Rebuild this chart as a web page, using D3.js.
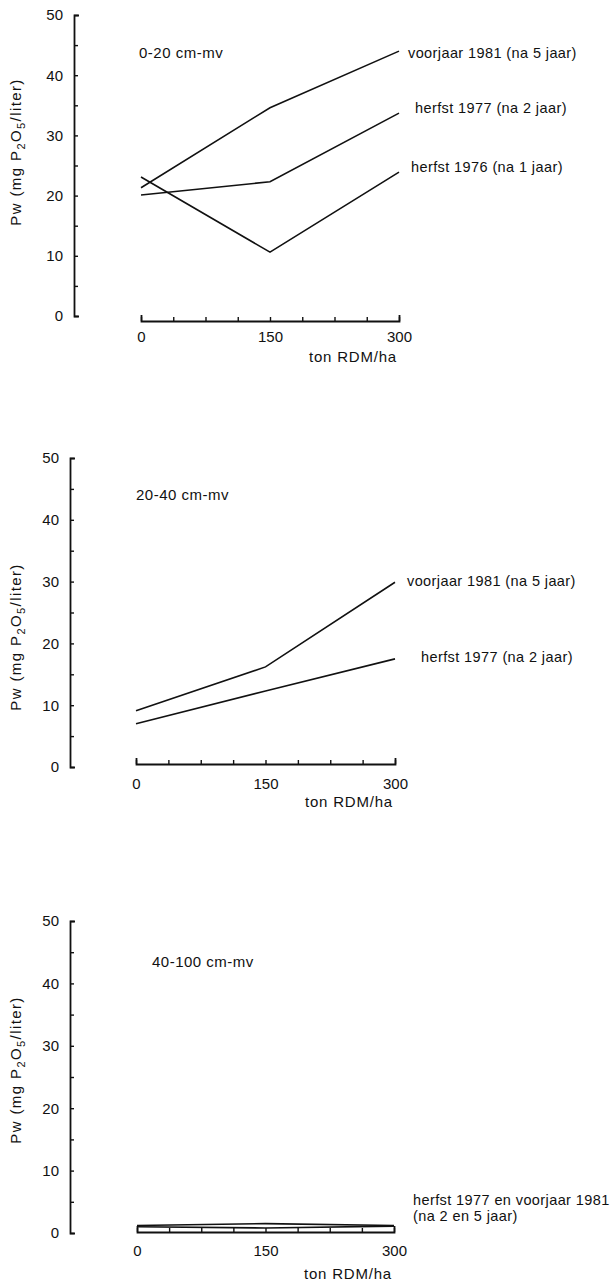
<!DOCTYPE html>
<html>
<head>
<meta charset="utf-8">
<script src="https://cdn.jsdelivr.net/npm/d3@7"></script>
<style>
  body { margin: 0; background: #fff; }
  svg { display: block; }
  text { font-family: "Liberation Sans", Arial, sans-serif; fill: #111; }
</style>
</head>
<body>
<svg width="615" height="1285"></svg>
<script>
var svg = d3.select('svg');

// x values (ton RDM/ha) and axis ticks
var doses = [0, 150, 300];
var xTickValues = [0, 37.5, 75, 112.5, 150, 187.5, 225, 262.5, 300];
var xTickLabels = [0, 150, 300];
var yTickValues = [0, 5, 10, 15, 20, 25, 30, 35, 40, 45, 50];
var yTickLabels = [0, 10, 20, 30, 40, 50];

var panelTitles = ["0-20 cm-mv", "20-40 cm-mv", "40-100 cm-mv"];

// Pw (mg P2O5/liter) per depth layer
var pw0_20_voorjaar1981 = [21.3, 34.6, 44.0];
var pw0_20_herfst1977 = [20.1, 22.3, 33.7];
var pw0_20_herfst1976 = [23.1, 10.6, 23.9];

var pw20_40_voorjaar1981 = [9.1, 16.2, 29.9];
var pw20_40_herfst1977 = [7.0, 12.3, 17.5];

var pw40_100_herfst1977 = [1.2, 1.5, 1.2];
var pw40_100_voorjaar1981 = [1.0, 0.8, 1.1];

var labels0_20 = ["voorjaar 1981 (na 5 jaar)", "herfst 1977 (na 2 jaar)", "herfst 1976 (na 1 jaar)"];
var labels20_40 = ["voorjaar 1981 (na 5 jaar)", "herfst 1977 (na 2 jaar)"];
var labels40_100 = ["herfst 1977 en voorjaar 1981", "(na 2 en 5 jaar)"];

// page layout of each panel (pixels)
var layout = [
  {axisX: 74, y50: 15, y0: 316, xAxisY: 321, x0: 141, x300: 399, titleX: 139, titleY: 53, yLabelY: 152, tickPad: 10, unitY: 362},
  {axisX: 70, y50: 458, y0: 767, xAxisY: 764, x0: 136, x300: 395, titleX: 136, titleY: 495, yLabelY: 637, tickPad: 14, unitY: 807},
  {axisX: 70, y50: 921, y0: 1233, xAxisY: 1232, x0: 137, x300: 394, titleX: 152, titleY: 962, yLabelY: 1070, tickPad: 13, unitY: 1279}
];

// label nudges relative to the line end [dx, dy]
var labelNudge = [
  [[9, 2], [16, -5], [12, -5]],
  [[12, -1], [26, -2]],
  [[19, -26], [19, -10]]
];

var panels = [
  {title: panelTitles[0], series: [pw0_20_voorjaar1981, pw0_20_herfst1977, pw0_20_herfst1976], labels: labels0_20},
  {title: panelTitles[1], series: [pw20_40_voorjaar1981, pw20_40_herfst1977], labels: labels20_40},
  {title: panelTitles[2], series: [pw40_100_herfst1977, pw40_100_voorjaar1981], labels: labels40_100}
];

panels.forEach(function(p, pi) {
  var L = layout[pi];
  var g = svg.append('g');

  var x = d3.scaleLinear().domain([0, 300]).range([L.x0, L.x300]);
  var y = d3.scaleLinear().domain([0, 50]).range([L.y0, L.y50]);

  // y axis, ticks pointing right like the original
  var yAxis = d3.axisLeft(y)
    .tickValues(yTickValues)
    .tickSizeInner(-4)
    .tickSizeOuter(-5)
    .tickPadding(11)
    .tickFormat(function(d) { return yTickLabels.indexOf(d) >= 0 ? d : ""; });

  var ya = g.append('g')
    .attr('transform', 'translate(' + L.axisX + ',0)')
    .call(yAxis);
  ya.attr('font-size', null).attr('font-family', null);
  ya.select('.domain').attr('stroke', '#111').attr('stroke-width', 1.8);
  ya.selectAll('.tick line').attr('stroke', '#111').attr('stroke-width', 1.4);
  ya.selectAll('.tick text').attr('font-size', '15px').attr('fill', '#111');

  // x axis, ticks pointing up
  var xAxis = d3.axisBottom(x)
    .tickValues(xTickValues)
    .tickSizeInner(-4)
    .tickSizeOuter(-6)
    .tickPadding(L.tickPad)
    .tickFormat(function(d) { return xTickLabels.indexOf(d) >= 0 ? d : ""; });

  var xa = g.append('g')
    .attr('transform', 'translate(0,' + L.xAxisY + ')')
    .call(xAxis);
  xa.attr('font-size', null).attr('font-family', null);
  xa.select('.domain').attr('stroke', '#111').attr('stroke-width', 1.8);
  xa.selectAll('.tick line').attr('stroke', '#111').attr('stroke-width', 1.4);
  xa.selectAll('.tick text').attr('font-size', '15px').attr('fill', '#111');

  g.append('text')
    .attr('x', L.x300 - 2)
    .attr('y', L.unitY)
    .attr('text-anchor', 'end')
    .attr('font-size', '15px')
    .attr('letter-spacing', '0.8px')
    .text('ton RDM/ha');

  // y axis title with subscripts
  var yl = g.append('text')
    .attr('transform', 'translate(21,' + L.yLabelY + ') rotate(-90)')
    .attr('text-anchor', 'middle')
    .attr('font-size', '15px')
    .attr('letter-spacing', '1.4px');
  yl.append('tspan').text('Pw (mg P');
  yl.append('tspan').attr('dy', 4).attr('font-size', '11px').text('2');
  yl.append('tspan').attr('dy', -4).text('O');
  yl.append('tspan').attr('dy', 4).attr('font-size', '11px').text('5');
  yl.append('tspan').attr('dy', -4).text('/liter)');

  // depth title
  g.append('text')
    .attr('x', L.titleX)
    .attr('y', L.titleY)
    .attr('dy', '0.35em')
    .attr('font-size', '15px')
    .attr('letter-spacing', '0.5px')
    .text(p.title);

  var line = d3.line()
    .x(function(d, i) { return x(doses[i]); })
    .y(function(d) { return y(d); });

  g.selectAll('.series')
    .data(p.series)
    .enter()
    .append('path')
    .attr('class', 'series')
    .attr('d', line)
    .attr('fill', 'none')
    .attr('stroke', '#111')
    .attr('stroke-width', 1.6);

  // series labels next to the line ends
  g.selectAll('.series-label')
    .data(p.labels)
    .enter()
    .append('text')
    .attr('class', 'series-label')
    .attr('x', function(d, i) { return x(300) + labelNudge[pi][i][0]; })
    .attr('y', function(d, i) {
      var s = p.series[Math.min(i, p.series.length - 1)];
      if (pi === 2) s = p.series[0];
      return y(s[s.length - 1]) + labelNudge[pi][i][1];
    })
    .attr('dy', '0.35em')
    .attr('font-size', '14.5px')
    .attr('letter-spacing', '0.4px')
    .text(function(d) { return d; });
});
</script>
</body>
</html>
